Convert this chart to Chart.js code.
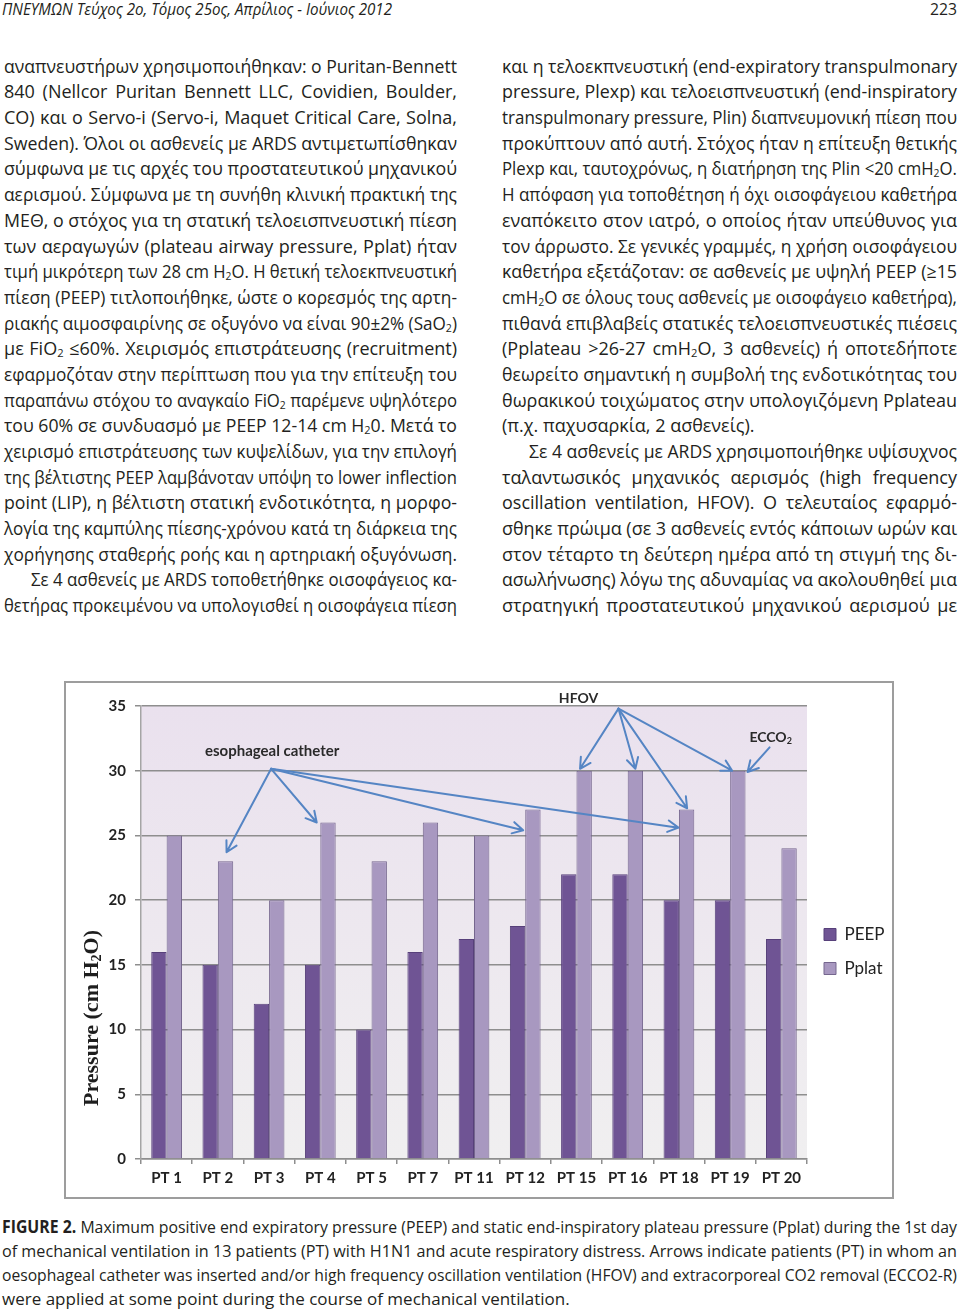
<!DOCTYPE html>
<html>
<head>
<meta charset="utf-8">
<script src="https://cdn.jsdelivr.net/npm/chart.js"></script>
<style>
html, body { margin: 0; padding: 0; background: #fff; }
#page { position: relative; width: 960px; height: 1314px; overflow: hidden; color: #231f20; font-family: "Open Sans", sans-serif; }
.hdr { position: absolute; top: -2px; font-size: 17px; line-height: 22px; }
.col { position: absolute; top: 53.7px; font-size: 18px; line-height: 25.7px; }
.ln { height: 25.7px; white-space: nowrap; }
.ln .t { display: inline-block; transform-origin: 0 50%; }
.ind { padding-left: 27px; }
sub { font-size: 0.62em; line-height: 0; vertical-align: -0.22em; }
#frame { position: absolute; left: 64px; top: 681px; width: 826px; height: 514px; border: 2px solid #9d9d9d; background: #fff; }
#cap { position: absolute; left: 2px; top: 1215px; width: 955px; font-size: 17px; line-height: 24px; }
#cap .ln { height: 24px; }
</style>
</head>
<body>
<div id="page">

<div class="hdr" style="left:2px;width:390px;"><div class="ln"><span class="t"><i>ΠΝΕΥΜΩΝ Τεύχος 2ο, Τόμος 25ος, Απρίλιος - Ιούνιος 2012</i></span></div></div>
<div class="hdr" style="left:930px;width:27px;"><div class="ln last"><span class="t">223</span></div></div>

<div class="col" style="left:4px;width:453px;">
<div class="ln"><span class="t">αναπνευστήρων χρησιμοποιήθηκαν: ο Puritan-Bennett</span></div>
<div class="ln"><span class="t">840 (Nellcor Puritan Bennett LLC, Covidien, Boulder,</span></div>
<div class="ln"><span class="t">CO) και ο Servo-i (Servo-i, Maquet Critical Care, Solna,</span></div>
<div class="ln"><span class="t">Sweden). Όλοι οι ασθενείς με ARDS αντιμετωπίσθηκαν</span></div>
<div class="ln"><span class="t">σύμφωνα με τις αρχές του προστατευτικού μηχανικού</span></div>
<div class="ln"><span class="t">αερισμού. Σύμφωνα με τη συνήθη κλινική πρακτική της</span></div>
<div class="ln"><span class="t">ΜΕΘ, ο στόχος για τη στατική τελοεισπνευστική πίεση</span></div>
<div class="ln"><span class="t">των αεραγωγών (plateau airway pressure, Pplat) ήταν</span></div>
<div class="ln"><span class="t">τιμή μικρότερη των 28 cm H<sub>2</sub>O. Η θετική τελοεκπνευστική</span></div>
<div class="ln"><span class="t">πίεση (PEEP) τιτλοποιήθηκε, ώστε ο κορεσμός της αρτη-</span></div>
<div class="ln"><span class="t">ριακής αιμοσφαιρίνης σε οξυγόνο να είναι 90±2% (SaO<sub>2</sub>)</span></div>
<div class="ln"><span class="t">με FiO<sub>2</sub> ≤60%. Χειρισμός επιστράτευσης (recruitment)</span></div>
<div class="ln"><span class="t">εφαρμοζόταν στην περίπτωση που για την επίτευξη του</span></div>
<div class="ln"><span class="t">παραπάνω στόχου το αναγκαίο FiO<sub>2</sub> παρέμενε υψηλότερο</span></div>
<div class="ln"><span class="t">του 60% σε συνδυασμό με PEEP 12-14 cm H<sub>2</sub>0. Μετά το</span></div>
<div class="ln"><span class="t">χειρισμό επιστράτευσης των κυψελίδων, για την επιλογή</span></div>
<div class="ln"><span class="t">της βέλτιστης PEEP λαμβάνοταν υπόψη το lower inflection</span></div>
<div class="ln"><span class="t">point (LIP), η βέλτιστη στατική ενδοτικότητα, η μορφο-</span></div>
<div class="ln"><span class="t">λογία της καμπύλης πίεσης-χρόνου κατά τη διάρκεια της</span></div>
<div class="ln"><span class="t">χορήγησης σταθερής ροής και η αρτηριακή οξυγόνωση.</span></div>
<div class="ln ind"><span class="t">Σε 4 ασθενείς με ARDS τοποθετήθηκε οισοφάγειος κα-</span></div>
<div class="ln"><span class="t">θετήρας προκειμένου να υπολογισθεί η οισοφάγεια πίεση</span></div>
</div>

<div class="col" style="left:502px;width:455px;">
<div class="ln"><span class="t">και η τελοεκπνευστική (end-expiratory transpulmonary</span></div>
<div class="ln"><span class="t">pressure, Plexp) και τελοεισπνευστική (end-inspiratory</span></div>
<div class="ln"><span class="t">transpulmonary pressure, Plin) διαπνευμονική πίεση που</span></div>
<div class="ln"><span class="t">προκύπτουν από αυτή. Στόχος ήταν η επίτευξη θετικής</span></div>
<div class="ln"><span class="t">Plexp και, ταυτοχρόνως, η διατήρηση της Plin &lt;20 cmH<sub>2</sub>O.</span></div>
<div class="ln"><span class="t">Η απόφαση για τοποθέτηση ή όχι οισοφάγειου καθετήρα</span></div>
<div class="ln"><span class="t">εναπόκειτο στον ιατρό, ο οποίος ήταν υπεύθυνος για</span></div>
<div class="ln"><span class="t">τον άρρωστο. Σε γενικές γραμμές, η χρήση οισοφάγειου</span></div>
<div class="ln"><span class="t">καθετήρα εξετάζοταν: σε ασθενείς με υψηλή PEEP (≥15</span></div>
<div class="ln"><span class="t">cmH<sub>2</sub>O σε όλους τους ασθενείς με οισοφάγειο καθετήρα),</span></div>
<div class="ln"><span class="t">πιθανά επιβλαβείς στατικές τελοεισπνευστικές πιέσεις</span></div>
<div class="ln"><span class="t">(Pplateau &gt;26-27 cmH<sub>2</sub>O, 3 ασθενείς) ή οποτεδήποτε</span></div>
<div class="ln"><span class="t">θεωρείτο σημαντική η συμβολή της ενδοτικότητας του</span></div>
<div class="ln"><span class="t">θωρακικού τοιχώματος στην υπολογιζόμενη Pplateau</span></div>
<div class="ln last"><span class="t">(π.χ. παχυσαρκία, 2 ασθενείς).</span></div>
<div class="ln ind"><span class="t">Σε 4 ασθενείς με ARDS χρησιμοποιήθηκε υψίσυχνος</span></div>
<div class="ln"><span class="t">ταλαντωσικός μηχανικός αερισμός (high frequency</span></div>
<div class="ln"><span class="t">oscillation ventilation, HFOV). Ο τελευταίος εφαρμό-</span></div>
<div class="ln"><span class="t">σθηκε πρώιμα (σε 3 ασθενείς εντός κάποιων ωρών και</span></div>
<div class="ln"><span class="t">στον τέταρτο τη δεύτερη ημέρα από τη στιγμή της δι-</span></div>
<div class="ln"><span class="t">ασωλήνωσης) λόγω της αδυναμίας να ακολουθηθεί μια</span></div>
<div class="ln"><span class="t">στρατηγική προστατευτικού μηχανικού αερισμού με</span></div>
</div>

<div id="frame"><canvas id="pressureChart" width="826" height="514"></canvas></div>

<div id="cap">
<div class="ln"><span class="t"><b>FIGURE 2.</b> Maximum positive end expiratory pressure (PEEP) and static end-inspiratory plateau pressure (Pplat) during the 1st day</span></div>
<div class="ln"><span class="t">of mechanical ventilation in 13 patients (PT) with H1N1 and acute respiratory distress. Arrows indicate patients (PT) in whom an</span></div>
<div class="ln"><span class="t">oesophageal catheter was inserted and/or high frequency oscillation ventilation (HFOV) and extracorporeal CO2 removal (ECCO2-R)</span></div>
<div class="ln last"><span class="t">were applied at some point during the course of mechanical ventilation.</span></div>
</div>

</div>

<script>
var patients = ['PT 1', 'PT 2', 'PT 3', 'PT 4', 'PT 5', 'PT 7', 'PT 11', 'PT 12', 'PT 15', 'PT 16', 'PT 18', 'PT 19', 'PT 20'];
var peep  = [16, 15, 12, 15, 10, 16, 17, 18, 22, 22, 20, 20, 17];
var pplat = [25, 23, 20, 26, 23, 26, 25, 27, 30, 30, 27, 30, 24];

var PeepColor = '#6f5494';
var PplatColor = '#a898c0';
var ArrowColor = '#5585c4';
var GridColor = '#8e8e8e';

// arrows: label spot, start point and arrow tips, in [category index, cm H2O]
var notes = [
    { text: 'esophageal catheter', at: [2.06, 31.5], from: [2.04, 30.15],
      to: [[1.17, 23.7], [2.93, 26.0], [6.96, 25.4], [9.99, 25.6]] },
    { text: 'HFOV', at: [8.04, 35.6], from: [8.82, 34.8],
      to: [[8.07, 30.15], [9.15, 30.15], [10.16, 27.1], [11.04, 30.0]] },
    { text: 'ECCO', sub: '2', at: [11.79, 32.6], from: [11.77, 31.8],
      to: [[11.34, 29.9]] }
];

function fitLines() {
    document.querySelectorAll('.ln').forEach(function (ln) {
        var t = ln.querySelector('.t');
        var avail = ln.clientWidth - (parseFloat(getComputedStyle(ln).paddingLeft) || 0);
        var w = t.getBoundingClientRect().width;
        if (w > avail) {
            t.style.transform = 'scaleX(' + (avail / w) + ')';
        } else if (!ln.classList.contains('last')) {
            var n = (t.textContent.match(/ /g) || []).length;
            if (n) t.style.wordSpacing = ((avail - w) / n) + 'px';
        }
    });
}
if (document.fonts && document.fonts.ready) document.fonts.ready.then(fitLines); else fitLines();

var plotBackground = {
    id: 'plotBackground',
    beforeDraw: function (chart) {
        var a = chart.chartArea, c = chart.ctx;
        var g = c.createLinearGradient(0, a.top, 0, a.bottom);
        g.addColorStop(0, '#eae1ee');
        g.addColorStop(1, '#f0eff0');
        c.save();
        c.fillStyle = g;
        c.fillRect(a.left, a.top, a.right - a.left, a.bottom - a.top);
        c.restore();
    }
};

var legendWidth = {
    id: 'legendWidth',
    beforeUpdate: function (chart) {
        var lg = chart.legend;
        if (lg && !lg._fixed) {
            var fit = lg.fit;
            lg.fit = function () { fit.call(this); this.width = 85; };
            lg._fixed = true;
        }
    }
};

// text with a lowered small "2", centred on x
function drawSubText(c, x, y, parts, font, subFont, drop) {
    var fonts = [font, subFont, font], widths = [], total = 0;
    parts.forEach(function (p, i) {
        c.font = fonts[i];
        widths.push(c.measureText(p).width);
        total += widths[i];
    });
    var cx = x - total / 2;
    c.textAlign = 'left';
    parts.forEach(function (p, i) {
        c.font = fonts[i];
        c.fillText(p, cx, i === 1 ? y + drop : y);
        cx += widths[i];
    });
}

var annotations = {
    id: 'annotations',
    afterDatasetsDraw: function (chart) {
        var c = chart.ctx, xs = chart.scales.x, ys = chart.scales.y;
        var px = function (p) { return [xs.getPixelForValue(p[0]), ys.getPixelForValue(p[1])]; };
        c.save();
        c.strokeStyle = ArrowColor;
        c.lineWidth = 2;
        c.lineCap = 'round';
        notes.forEach(function (n) {
            var s = px(n.from);
            n.to.forEach(function (p) {
                var e = px(p);
                var ang = Math.atan2(e[1] - s[1], e[0] - s[0]);
                c.beginPath();
                c.moveTo(s[0], s[1]);
                c.lineTo(e[0], e[1]);
                for (var k = -1; k <= 1; k += 2) {
                    c.moveTo(e[0], e[1]);
                    c.lineTo(e[0] - 12 * Math.cos(ang + k * 0.5), e[1] - 12 * Math.sin(ang + k * 0.5));
                }
                c.stroke();
            });
            var t = px(n.at);
            c.fillStyle = '#2a2a2a';
            c.textBaseline = 'middle';
            if (n.sub) {
                drawSubText(c, t[0], t[1], [n.text, n.sub, ''], 'bold 14px Lato', 'bold 9px Lato', 4);
            } else {
                c.font = 'bold ' + (n.text.length > 6 ? 15 : 14) + 'px Lato';
                c.textAlign = 'center';
                c.fillText(n.text, t[0], t[1]);
            }
        });
        c.restore();
    },
    afterDraw: function (chart) {
        // y axis title
        var c = chart.ctx, a = chart.chartArea;
        c.save();
        c.translate(26, a.bottom - 141);
        c.rotate(-Math.PI / 2);
        c.fillStyle = '#1e1e1e';
        c.textBaseline = 'middle';
        drawSubText(c, 0, 0, ['Pressure (cm H', '2', 'O)'],
            'bold 22px "Liberation Serif"', 'bold 14px "Liberation Serif"', 5);
        c.restore();
    }
};

var ctx1 = document.getElementById('pressureChart');

var pressureChart = new Chart(ctx1, {
    type: 'bar',
    data: {
        labels: patients,
        datasets: [
            {
                label: 'PEEP',
                data: peep,
                backgroundColor: PeepColor,
                borderColor: '#57407a',
                borderWidth: 1,
                categoryPercentage: 0.6,
                barPercentage: 1.0
            },
            {
                label: 'Pplat',
                data: pplat,
                backgroundColor: PplatColor,
                borderColor: '#75668e',
                borderWidth: 1,
                categoryPercentage: 0.6,
                barPercentage: 1.0
            }
        ]
    },
    options: {
        responsive: false,
        animation: false,
        devicePixelRatio: 1,
        events: [],
        layout: { padding: { top: 23, right: 0, bottom: 0, left: 0 } },
        scales: {
            x: {
                afterFit: function (s) { s.height = 38; },
                grid: { display: true, drawOnChartArea: false, drawTicks: true, tickLength: 5, offset: true, color: GridColor, lineWidth: 1.5 },
                border: { display: true, color: GridColor, width: 1.5 },
                ticks: { autoSkip: false, maxRotation: 0, padding: 5, color: '#222', font: { family: 'Lato', size: 15, weight: 'bold' } }
            },
            y: {
                min: 0,
                max: 35,
                afterFit: function (s) { s.width = 75; },
                grid: { color: GridColor, lineWidth: 1.5, tickLength: 6 },
                border: { display: true, color: '#a5a5a5', width: 1.5 },
                ticks: { stepSize: 5, padding: 9, color: '#222', font: { family: 'Lato', size: 15, weight: 'bold' } }
            }
        },
        plugins: {
            tooltip: { enabled: false },
            legend: {
                position: 'right',
                labels: {
                    boxWidth: 12,
                    boxHeight: 12,
                    padding: 17,
                    color: '#222',
                    font: { family: 'Lato', size: 17 }
                }
            }
        }
    },
    plugins: [plotBackground, legendWidth, annotations]
});
</script>
</body>
</html>
